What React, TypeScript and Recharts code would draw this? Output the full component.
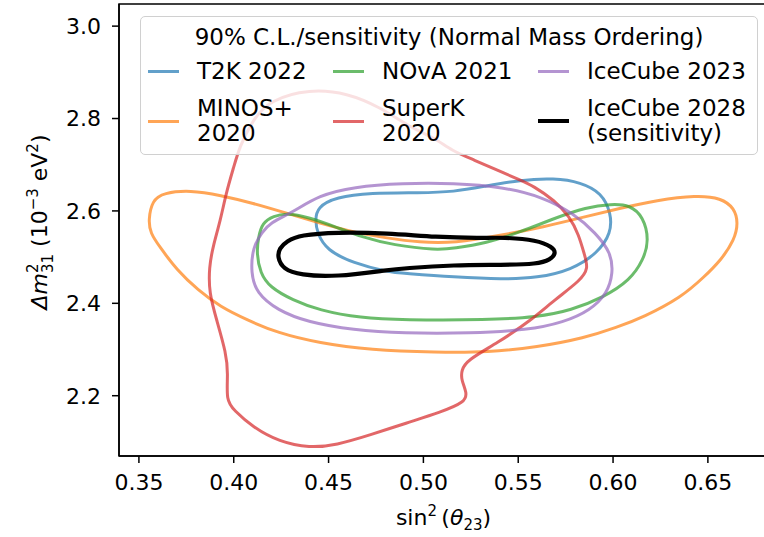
import React from 'react';
import { ComposedChart, Line, XAxis, YAxis, Legend, ReferenceArea } from 'recharts';

const font = '"DejaVu Sans", sans-serif';

// 90% C.L. contours as [sin^2(theta23), dm^2_31 (1e-3 eV^2)] pairs
const t2k2022 = [
  [0.443, 2.58], [0.444, 2.608], [0.454, 2.63], [0.472, 2.639], [0.498, 2.639], [0.516, 2.641],
  [0.533, 2.654], [0.551, 2.667], [0.569, 2.671], [0.583, 2.662], [0.594, 2.639], [0.599, 2.595],
  [0.599, 2.552], [0.592, 2.509], [0.578, 2.472], [0.56, 2.455], [0.542, 2.452], [0.516, 2.457],
  [0.49, 2.465], [0.481, 2.468], [0.463, 2.487], [0.449, 2.515], [0.444, 2.552],
];

const minos2020 = [
  [0.355, 2.58], [0.357, 2.623], [0.363, 2.639], [0.377, 2.645], [0.393, 2.634], [0.41, 2.617],
  [0.428, 2.595], [0.445, 2.574], [0.463, 2.554], [0.481, 2.541], [0.498, 2.532], [0.516, 2.53],
  [0.542, 2.548], [0.563, 2.565], [0.585, 2.587], [0.604, 2.606], [0.623, 2.623], [0.644, 2.634],
  [0.657, 2.628], [0.664, 2.606], [0.666, 2.574], [0.664, 2.537], [0.657, 2.494], [0.648, 2.457],
  [0.636, 2.413], [0.616, 2.37], [0.602, 2.348], [0.585, 2.325], [0.56, 2.305], [0.534, 2.294],
  [0.507, 2.294], [0.472, 2.299], [0.445, 2.314], [0.423, 2.336], [0.407, 2.364], [0.393, 2.392],
  [0.381, 2.429], [0.37, 2.472], [0.361, 2.522], [0.356, 2.552],
];

const nova2021 = [
  [0.412, 2.509], [0.413, 2.543], [0.415, 2.574], [0.421, 2.589], [0.428, 2.595], [0.439, 2.587],
  [0.454, 2.565], [0.468, 2.543], [0.484, 2.526], [0.507, 2.515], [0.516, 2.519], [0.533, 2.53],
  [0.551, 2.554], [0.569, 2.584], [0.586, 2.608], [0.599, 2.615], [0.609, 2.613], [0.616, 2.587],
  [0.619, 2.537], [0.616, 2.494], [0.609, 2.45], [0.595, 2.413], [0.578, 2.385], [0.56, 2.37],
  [0.534, 2.364], [0.489, 2.364], [0.467, 2.368], [0.445, 2.385], [0.431, 2.407], [0.419, 2.435],
  [0.414, 2.465],
];

const superk2020 = [
  [0.44, 2.864], [0.419, 2.84], [0.41, 2.797], [0.403, 2.738], [0.4, 2.695], [0.396, 2.639],
  [0.393, 2.58], [0.389, 2.522], [0.387, 2.478], [0.387, 2.422], [0.391, 2.364], [0.396, 2.292],
  [0.397, 2.249], [0.396, 2.19], [0.4, 2.169], [0.41, 2.132], [0.424, 2.1], [0.44, 2.087],
  [0.454, 2.093], [0.472, 2.115], [0.491, 2.141], [0.509, 2.164], [0.522, 2.186], [0.523, 2.206],
  [0.52, 2.234], [0.52, 2.255], [0.523, 2.277], [0.539, 2.314], [0.557, 2.364], [0.569, 2.407],
  [0.583, 2.45], [0.587, 2.476], [0.585, 2.504], [0.582, 2.548], [0.577, 2.589], [0.569, 2.623],
  [0.558, 2.654], [0.551, 2.667], [0.539, 2.688], [0.527, 2.71], [0.515, 2.73], [0.506, 2.758],
  [0.493, 2.781], [0.477, 2.825], [0.46, 2.855],
];

const icecube2023 = [
  [0.409, 2.465], [0.41, 2.522], [0.415, 2.554], [0.419, 2.574], [0.431, 2.597], [0.445, 2.634],
  [0.463, 2.652], [0.489, 2.66], [0.516, 2.66], [0.542, 2.652], [0.563, 2.63], [0.579, 2.595],
  [0.591, 2.552], [0.599, 2.509], [0.6, 2.465], [0.597, 2.422], [0.588, 2.385], [0.574, 2.359],
  [0.555, 2.342], [0.525, 2.335], [0.489, 2.335], [0.463, 2.342], [0.439, 2.359], [0.423, 2.385],
  [0.412, 2.422],
];

const icecube2028 = [
  [0.423, 2.5], [0.424, 2.519], [0.428, 2.535], [0.435, 2.548], [0.454, 2.554], [0.481, 2.552],
  [0.507, 2.543], [0.53, 2.541], [0.542, 2.543], [0.56, 2.537], [0.568, 2.522], [0.57, 2.509],
  [0.567, 2.494], [0.56, 2.485], [0.542, 2.483], [0.516, 2.483], [0.49, 2.476], [0.481, 2.472],
  [0.454, 2.457], [0.435, 2.461], [0.426, 2.474],
];

const xTicks = [0.35, 0.4, 0.45, 0.5, 0.55, 0.6, 0.65];
const yTicks = [2.2, 2.4, 2.6, 2.8, 3.0];
const xRange = [0.3395, 0.6817];
const yRange = [2.0695, 3.0479];

const legendTitle = '90% C.L./sensitivity (Normal Mass Ordering)';

const series = [
  { name: 'T2K 2022', color: '#1f77b4', pts: t2k2022 },
  { name: 'MINOS+\n2020', color: '#ff7f0e', pts: minos2020 },
  { name: 'NOvA 2021', color: '#2ca02c', pts: nova2021 },
  { name: 'SuperK\n2020', color: '#d62728', pts: superk2020 },
  { name: 'IceCube 2023', color: '#9467bd', pts: icecube2023 },
  { name: 'IceCube 2028\n(sensitivity)', color: '#000000', pts: icecube2028 },
];

// contour points -> rows; the curve type closes the loop itself
const toRows = (pts: number[][]) => pts.map(([x, y]) => ({ x, y }));

const colX = [7, 192, 397];

const LegendBox = () => (
  <div
    style={{
      position: 'relative',
      width: 618,
      height: 139,
      boxSizing: 'border-box',
      border: '1.5px solid #d0d0d0',
      borderRadius: 5,
      background: 'rgba(255,255,255,0.8)',
      fontFamily: font,
      fontSize: 23,
      lineHeight: '25px',
      color: '#000',
    }}
  >
    <div style={{ position: 'absolute', left: 0, right: 0, top: 8, textAlign: 'center', whiteSpace: 'nowrap' }}>
      {legendTitle}
    </div>
    {series.map((s, i) => {
      const col = Math.floor(i / 2);
      const cy = i % 2 === 0 ? 54 : 104;
      const lines = s.name.split('\n');
      const black = s.color === '#000000';
      const lw = black ? 4.5 : 3;
      return (
        <React.Fragment key={s.name}>
          <div
            style={{
              position: 'absolute',
              left: colX[col],
              top: cy - lw / 2,
              width: 31,
              height: lw,
              background: s.color,
              opacity: black ? 1 : 0.7,
            }}
          />
          <div
            style={{
              position: 'absolute',
              left: colX[col] + 49,
              top: cy - (lines.length * 25) / 2,
              whiteSpace: 'nowrap',
            }}
          >
            {lines.map((l) => (
              <div key={l}>{l}</div>
            ))}
          </div>
        </React.Fragment>
      );
    })}
  </div>
);

const XLabel = (props: any) => {
  const vb = props.viewBox || { x: 119, width: 649 };
  return (
    <text x={vb.x + vb.width / 2} y={525} textAnchor="middle" fontFamily={font} fontSize={22} fill="#000">
      sin
      <tspan fontSize={15} dy={-9}>2</tspan>
      <tspan dy={9}>{'\u2009('}</tspan>
      <tspan fontStyle="italic">θ</tspan>
      <tspan fontSize={15} dy={5}>23</tspan>
      <tspan dy={-5}>)</tspan>
    </text>
  );
};

const YLabel = () => (
  <text transform="translate(47,222) rotate(-90)" textAnchor="middle" fontFamily={font} fontSize={22} fill="#000">
    <tspan fontStyle="italic">Δm</tspan>
    <tspan fontSize={15} dy={-9}>2</tspan>
    <tspan fontSize={15} dx={-9.5} dy={15}>31</tspan>
    <tspan dy={-6}>{' (10'}</tspan>
    <tspan fontSize={15} dy={-9}>−3</tspan>
    <tspan dy={9}>{' eV'}</tspan>
    <tspan fontSize={15} dy={-9}>2</tspan>
    <tspan dy={9}>)</tspan>
  </text>
);

const tickStyle = { fill: '#000', fontSize: 22, fontFamily: font };
const axisStroke = { stroke: '#000', strokeWidth: 1.5 };

const App = () => {
  return (
    <div style={{ position: 'absolute', left: 0, top: 0, width: 764, height: 537, overflow: 'hidden', background: '#fff' }}>
      <ComposedChart width={780} height={537} margin={{ top: 4, right: 12, bottom: 0, left: 0 }}>
        <XAxis
          dataKey="x"
          type="number"
          domain={xRange}
          ticks={xTicks}
          allowDataOverflow
          height={81}
          tickSize={7}
          tickMargin={11}
          tickFormatter={(v: number) => v.toFixed(2)}
          tick={tickStyle}
          axisLine={axisStroke}
          tickLine={axisStroke}
          label={{ content: (p: any) => <XLabel {...p} /> }}
        />
        <YAxis
          dataKey="y"
          type="number"
          domain={yRange}
          ticks={yTicks}
          allowDataOverflow
          width={119}
          tickSize={7}
          tickMargin={11}
          tickFormatter={(v: number) => v.toFixed(1)}
          tick={tickStyle}
          axisLine={axisStroke}
          tickLine={axisStroke}
          label={{ content: () => <YLabel /> }}
        />
        <ReferenceArea
          x1={xRange[0]}
          x2={xRange[1]}
          y1={yRange[0]}
          y2={yRange[1]}
          fill="none"
          fillOpacity={0}
          stroke="#000"
          strokeWidth={1.5}
          ifOverflow="visible"
        />
        {series.map((s) => {
          const black = s.color === '#000000';
          return (
            <Line
              key={s.name}
              name={s.name}
              data={toRows(s.pts)}
              dataKey="y"
              type="basisClosed"
              stroke={s.color}
              strokeOpacity={black ? 1 : 0.7}
              strokeWidth={black ? 4.2 : 3}
              strokeLinejoin="round"
              dot={false}
              activeDot={false}
              isAnimationActive={false}
            />
          );
        })}
        <Legend
          layout="horizontal"
          verticalAlign="middle"
          align="center"
          wrapperStyle={{ left: 140, top: 16, width: 618, height: 139 }}
          content={() => <LegendBox />}
        />
      </ComposedChart>
    </div>
  );
};

export default App;
